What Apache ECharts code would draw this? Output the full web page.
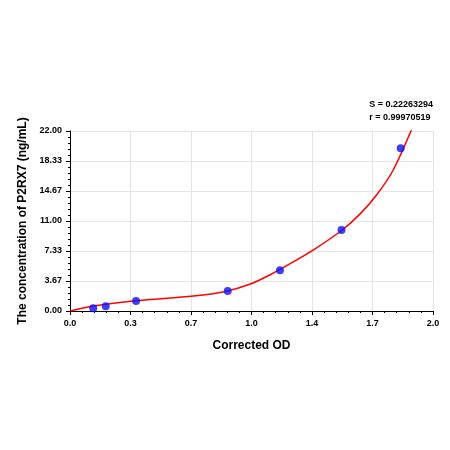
<!DOCTYPE html><html><head><meta charset="utf-8"><script src="https://cdn.jsdelivr.net/npm/echarts@6/dist/echarts.min.js"></script></head><body style="margin:0"><div id="c" style="width:450px;height:450px"></div><script>
const xTickLabels=['0.0','0.3','0.7','1.0','1.4','1.7','2.0'];
const yTickLabels=['0.00','3.67','7.33','11.00','14.67','18.33','22.00'];
const pointsX=[0.128,0.197,0.364,0.869,1.157,1.496,1.822];
const pointsY=[0.33,0.57,1.22,2.44,4.97,9.9,19.9];
const curveX=[0,0.13,0.36,0.68,0.85,0.99,1.1,1.23,1.35,1.50,1.60,1.69,1.78,1.89];
const curveY=[0,0.6,1.25,1.83,2.35,3.26,4.4,6.0,7.6,9.9,11.9,14.2,17.2,22.6];
const c=echarts.init(document.getElementById('c'));
const fz={fontFamily:'Liberation Sans, Arial',fontSize:9,color:'#000',fontWeight:'bold'};
c.setOption({animation:false,
grid:{left:70,right:17,top:131,bottom:139},
graphic:[{type:'text',right:17,top:98,style:{text:'S = 0.22263294\nr = 0.99970519',align:'right',font:'bold 9px Liberation Sans, Arial',lineHeight:13,fill:'#000'}}],
xAxis:{type:'value',min:0,max:2,interval:1/3,name:'Corrected OD',nameLocation:'middle',nameGap:29,nameTextStyle:{fontFamily:'Liberation Sans, Arial',fontSize:12,fontWeight:'bold',color:'#000'},
axisLine:{lineStyle:{color:'#000'}},axisTick:{lineStyle:{color:'#000'},length:4},minorTick:{show:true,splitNumber:5,length:2,lineStyle:{color:'#000'}},
axisLabel:Object.assign({formatter:(v)=>xTickLabels[Math.round(v*3)]},fz),splitLine:{lineStyle:{color:'#e4e4e4'}}},
yAxis:{type:'value',min:0,max:22,interval:22/6,name:'The concentration of P2RX7 (ng/mL)',nameLocation:'middle',nameGap:40,nameTextStyle:{fontFamily:'Liberation Sans, Arial',fontSize:12,fontWeight:'bold',color:'#000'},
axisLine:{show:true,lineStyle:{color:'#000'}},axisTick:{show:true,lineStyle:{color:'#000'},length:4},minorTick:{show:true,splitNumber:5,length:2,lineStyle:{color:'#000'}},
axisLabel:Object.assign({formatter:(v)=>yTickLabels[Math.round(v*6/22)]},fz),splitLine:{lineStyle:{color:'#e4e4e4'}}},
series:[{type:'line',data:curveX.map((x,i)=>[x,curveY[i]]),smooth:0.3,showSymbol:false,clip:true,lineStyle:{color:'#ff0000',width:1.5},z:2},
{type:'scatter',data:pointsX.map((x,i)=>[x,pointsY[i]]),symbolSize:8,itemStyle:{color:'#1010ee'},z:3}]});
</script></body></html>
